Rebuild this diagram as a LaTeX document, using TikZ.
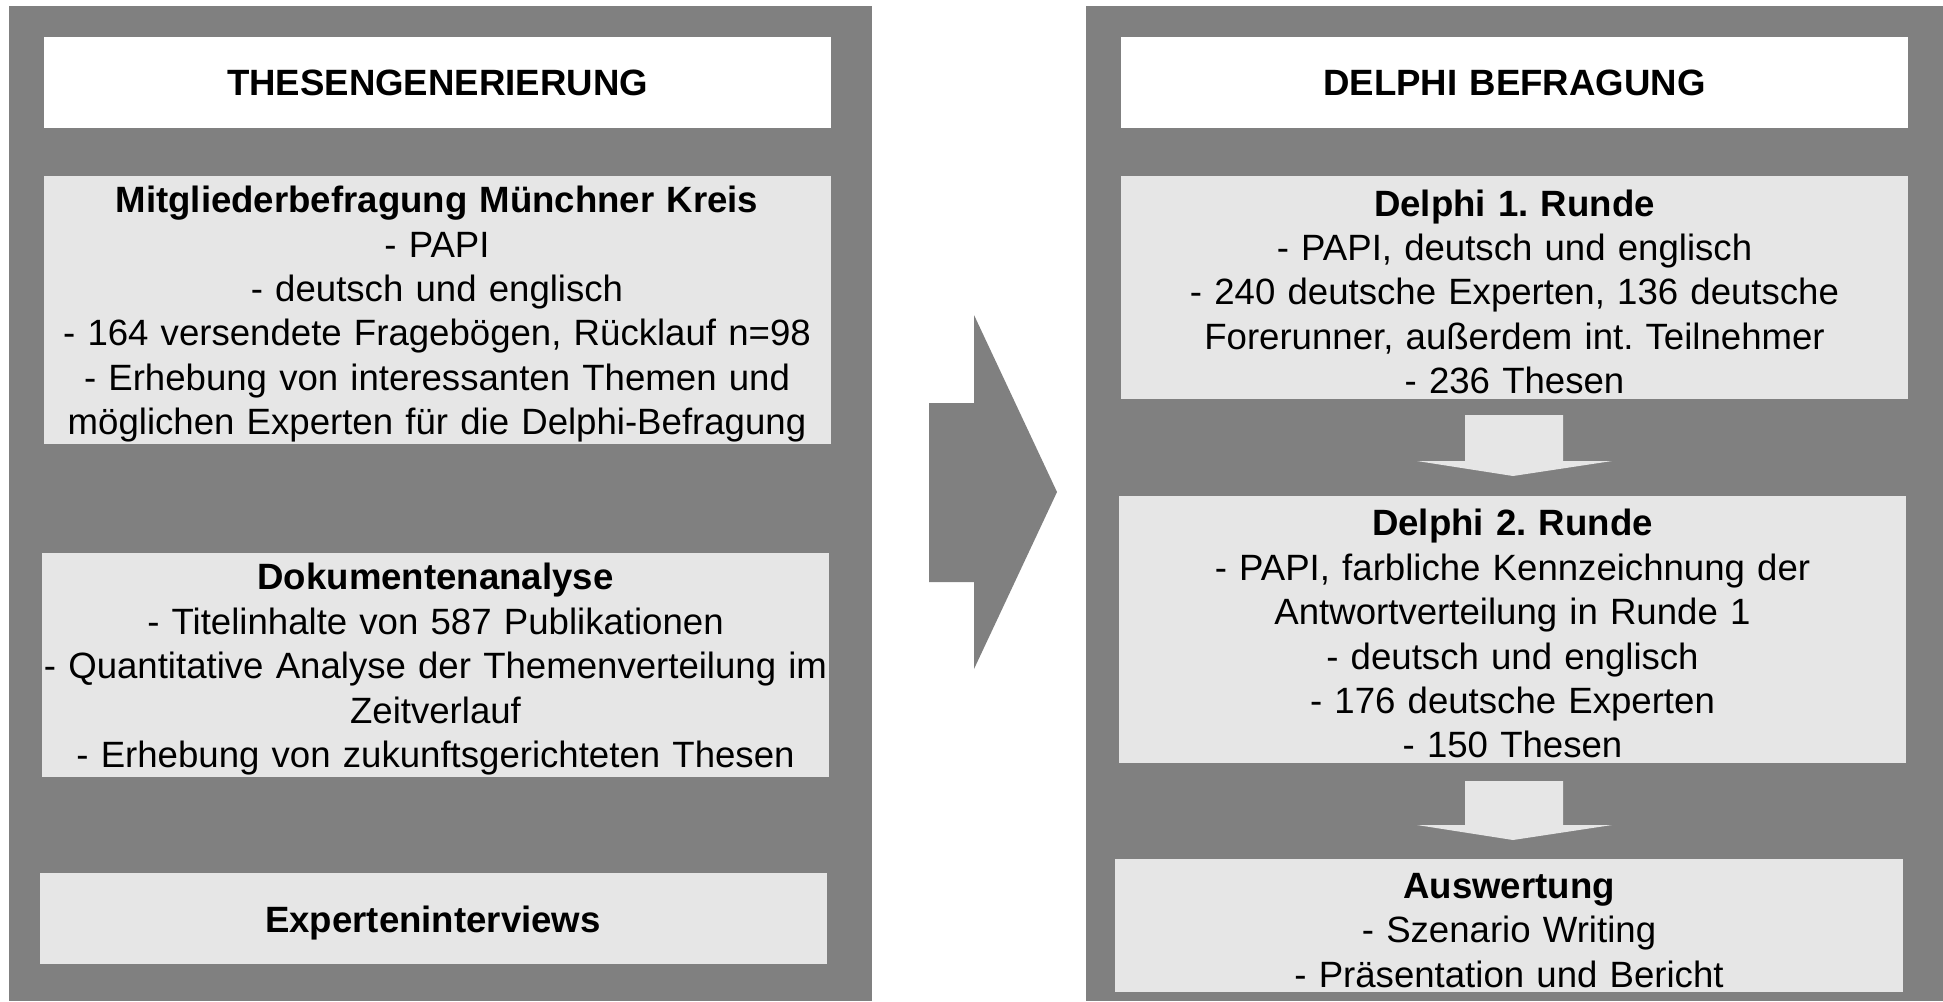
\documentclass[tikz,border=0pt]{standalone}
\usepackage{fontspec}
\setmainfont{Liberation Sans}
\usetikzlibrary{positioning}
\definecolor{panelgray}{RGB}{128,128,128}
\definecolor{boxgray}{RGB}{230,230,230}
\frenchspacing

\begin{document}
\begin{tikzpicture}[x=0.5pt, y=-0.5pt,
    headbox/.style={fill=white, inner sep=0pt, text width=393.5pt, minimum height=45.5pt,
                    align=center, font=\bfseries\fontsize{18.3}{22.2}\selectfont},
    infobox/.style={fill=boxgray, inner sep=0pt, text width=393.5pt, text height=17.5pt,
                    align=center, font=\fontsize{18.3}{22.2}\selectfont}]
    \useasboundingbox[fill=white] (0,0) rectangle (1943,1001);
    % Panels
    \fill[panelgray] (9,6) rectangle (872,1001);
    \fill[panelgray] (1086,6) rectangle (1943,1001);
    % Thesengenerierung
    \node[headbox] (thesen) at (437.5,82.5) {THESENGENERIERUNG};
    \node[infobox, minimum height=134pt] (mitglieder) at (437,310) {\textbf{Mitgliederbefragung Münchner Kreis}\\
        - PAPI\\ - deutsch und englisch\\ - 164 versendete Fragebögen, Rücklauf n=98\\
        - Erhebung von interessanten Themen und\\ möglichen Experten für die Delphi-Befragung};
    \node[infobox, minimum height=112pt] (dokument) at (435.5,665) {\textbf{Dokumentenanalyse}\\
        - Titelinhalte von 587 Publikationen\\ \makebox[\linewidth][c]{- Quantitative Analyse der Themenverteilung im}\\
        Zeitverlauf\\ - Erhebung von zukunftsgerichteten Thesen};
    \node[infobox, minimum height=45.5pt] (interviews) at (433,918.5) {\textbf{Experteninterviews}};
    % Delphi
    \node[headbox] (delphi) at (1514.5,82.5) {DELPHI BEFRAGUNG};
    \node[infobox, minimum height=111.5pt] (runde1) at (1514.5,287.5) {\textbf{Delphi 1. Runde}\\
        - PAPI, deutsch und englisch\\ - 240 deutsche Experten, 136 deutsche\\
        Forerunner, außerdem int. Teilnehmer\\ - 236 Thesen};
    \node[infobox, minimum height=133.5pt] (runde2) at (1512.5,629.5) {\textbf{Delphi 2. Runde}\\
        - PAPI, farbliche Kennzeichnung der\\ Antwortverteilung in Runde 1\\
        - deutsch und englisch\\ - 176 deutsche Experten\\ - 150 Thesen};
    \node[infobox, minimum height=66.5pt, text width=394pt] (auswertung) at (1509,925.5) {\textbf{Auswertung}\\
        - Szenario Writing\\ - Präsentation und Bericht};
    % Arrows
    \fill[panelgray] (929,403) -- (974,403) -- (974,315) -- (1057,492) -- (974,669) -- (974,582) -- (929,582) -- cycle;
    \fill[boxgray] (1465,415) -- (1563,415) -- (1563,461) -- (1612,461) -- (1513,476) -- (1417,461) -- (1465,461) -- cycle;
    \fill[boxgray] (1465,781) -- (1563,781) -- (1563,825) -- (1612,825) -- (1513,840) -- (1417,825) -- (1465,825) -- cycle;
\end{tikzpicture}
\end{document}
